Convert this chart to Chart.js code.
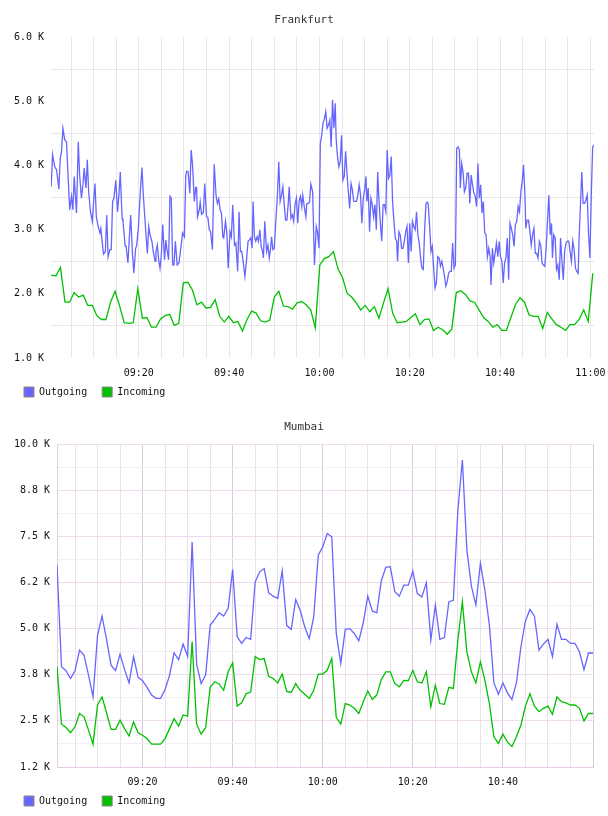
<!DOCTYPE html>
<html>
<head>
<meta charset="utf-8">
<script src="https://cdn.jsdelivr.net/npm/chart.js@4.4.1/dist/chart.umd.min.js"></script>
<style>
  body { margin: 0; background: #fff; }
  canvas { display: block; }
</style>
</head>
<body>
<canvas id="frankfurt" width="608" height="407"></canvas>
<canvas id="mumbai" width="608" height="409"></canvas>
<script>
// all times are minutes after 09:00

// ---- Frankfurt ----
const frOutTimes = [
  0.6,0.9,1.4,1.8,2.3,2.6,2.9,3.2,3.6,4.0,4.3,4.7,5.1,5.4,5.7,6.2,6.6,6.9,7.3,7.7,
  7.9,8.3,8.6,8.9,9.3,9.7,10.0,10.3,10.6,11.0,11.4,11.6,12.0,12.2,12.6,12.9,13.2,13.6,13.9,14.2,
  14.5,14.9,15.3,15.6,15.9,16.3,16.5,17.0,17.2,17.6,17.9,18.2,18.6,18.9,19.3,19.5,19.9,20.3,20.7,21.0,
  21.3,21.7,21.9,22.2,22.5,22.9,23.2,23.6,23.8,24.1,24.4,24.7,25.0,25.3,25.7,26.0,26.2,26.6,26.9,27.2,
  27.5,27.8,28.1,28.5,28.9,29.3,29.7,30.1,30.4,
  30.6,30.9,31.3,31.6,31.9,32.3,32.6,32.8,33.0,33.4,33.6,33.9,34.3,34.6,35.0,35.3,35.6,35.9,36.3,36.7,
  37.1,37.4,37.7,38.0,38.3,38.6,38.8,39.2,39.5,39.8,40.2,40.5,40.8,41.2,41.5,41.9,42.2,42.5,42.8,43.1,
  43.5,43.9,44.2,44.5,44.8,45.1,45.3,45.6,45.9,46.2,46.5,46.8,47.1,47.4,47.6,47.9,48.3,48.6,48.9,49.2,
  49.4,49.7,50.0,50.3,50.7,51.0,51.3,51.6,51.9,52.2,52.5,52.8,53.1,53.3,53.7,54.0,54.3,54.6,54.9,55.2,
  55.5,55.8,56.1,56.3,56.7,57.0,57.2,57.5,57.8,58.1,58.5,58.9,59.3,59.6,59.9,
  60.2,60.5,60.8,61.1,61.4,61.7,62.0,62.3,62.6,62.9,63.2,63.5,63.7,64.0,64.3,64.6,64.9,65.2,65.5,65.8,
  66.1,66.4,66.7,67.0,67.3,67.6,67.9,68.2,68.5,68.8,69.1,69.4,69.7,70.0,70.3,70.5,70.8,71.1,71.4,71.7,
  72.0,72.3,72.6,72.9,73.2,73.5,73.8,74.1,74.4,74.7,75.0,75.3,75.6,75.9,76.2,76.5,76.8,77.1,77.3,77.6,
  77.9,78.2,78.5,78.8,79.1,79.4,79.7,80.0,80.3,80.6,80.9,81.2,81.5,81.8,82.1,82.4,82.7,83.0,83.3,83.6,
  83.9,84.1,84.4,84.7,85.0,85.3,85.6,85.9,86.2,86.5,86.8,87.1,87.4,87.7,88.0,88.3,88.6,88.9,89.2,89.5,
  89.8,90.1,90.4,90.7,
  91.0,91.2,91.5,91.8,92.1,92.4,92.7,93.0,93.3,93.6,93.9,94.2,94.5,94.8,95.1,95.4,95.7,96.0,96.3,96.6,
  96.9,97.2,97.5,97.8,98.0,98.3,98.6,98.9,99.2,99.5,99.8,100.1,100.4,100.7,101.0,101.3,101.6,101.9,102.2,102.5,
  102.8,103.1,103.4,103.7,104.0,104.3,104.6,104.9,105.2,105.5,105.7,106.0,106.3,106.6,106.9,107.2,107.5,107.8,108.1,108.4,
  108.7,109.0,109.3,109.6,109.9,110.2,110.5,110.8,111.1,111.4,111.6,111.9,112.2,112.5,112.8,113.1,113.4,113.7,114.0,114.3,
  114.6,114.9,115.2,115.5,115.8,116.1,116.4,116.7,117.0,117.3,117.5,117.8,118.1,118.4,118.7,119.0,119.3,119.6,119.9,120.2,
  120.5,120.8
];
const frOutValues = [
  3670,4170,3980,3930,3630,4110,4220,4580,4400,4370,3900,3310,3520,3310,3830,3260,4370,3850,3490,3750,
  3960,3650,4090,3590,3280,3130,3440,3720,3200,3050,2950,3020,2740,2620,2660,3230,2580,2690,2690,3440,
  3490,3770,3280,3540,3900,3180,3130,2740,2740,2480,2870,3230,2630,2320,2710,2740,3020,3540,3970,3540,
  3230,2820,2630,3050,2920,2820,2660,2510,2660,2760,2530,2400,2610,3080,2530,2840,2710,2530,3520,3490,
  2450,2450,2820,2450,2480,2710,2950,2890,3850,
  3910,3910,3570,4240,4010,3440,3660,3660,3200,3310,3430,3240,3270,3720,3200,3190,3000,2970,2690,4020,
  3540,3410,3480,3310,3260,2890,2870,3130,2950,2400,2970,2890,3390,2760,2790,2350,3280,2660,2660,2510,
  2270,2560,2820,2840,2870,2710,3440,2890,2820,2890,2820,3000,2740,2660,2560,3130,2660,2760,2560,2710,
  2890,2690,2710,3080,3540,4060,3440,3540,3670,3390,3150,3150,3410,3670,3180,3230,3130,3390,3490,3100,
  3440,3520,3360,3540,3330,3200,3400,3410,3430,3710,3590,2450,3050,2950,2710,
  4340,4470,4660,4730,4840,4580,4630,4710,4290,5020,4580,4970,4420,4140,3980,4060,4470,3770,3830,4220,
  3880,3590,3330,3720,3620,3440,3440,3440,3540,3700,3540,3100,3490,3620,3830,3440,3650,2970,3490,3390,
  3200,3390,3000,3900,3440,3100,2820,3390,3390,3280,4240,3800,3850,4140,3440,3130,2870,2820,2510,2970,
  2920,2710,2710,2820,2970,3050,2480,3100,2660,3130,3050,3000,3280,2920,2790,2560,2400,2380,3020,3410,
  3430,3390,3050,2660,2740,2400,2090,2170,2580,2560,2430,2510,2400,2270,2120,2190,2320,2350,2350,2790,
  2400,2450,4270,4290,
  4240,3650,4030,3900,3590,3650,3880,3880,3410,3850,3700,3570,3520,3360,4030,3490,3700,3260,3440,2950,
  2920,2580,2710,2580,2140,2710,2480,2630,2790,2580,2820,2580,2510,2170,2480,2560,2870,2220,3100,3020,
  2920,2740,3080,3130,3360,3280,3590,3750,4010,3540,3020,3150,3150,2970,2760,2920,3020,2630,2630,2560,
  2820,2760,2480,2450,2430,2710,3130,3540,2920,3100,2560,2920,2870,2380,2450,2220,2870,2510,2220,2660,
  2790,2820,2820,2660,2510,2820,2690,2400,2350,2320,2870,3390,3900,3410,3410,3460,3540,2920,2560,3540,
  4290,4320
];
// incoming is sampled about once a minute
const frInFirst = 0.64;
const frInStep = 1.0075;
const frInValues = [
  2290,2280,2410,1870,1870,2020,1950,1980,1820,1820,1660,1600,1600,1870,2040,1810,1550,1540,1550,2080,
  1620,1630,1480,1480,1610,1660,1680,1510,1540,2170,2180,
  2060,1830,1870,1780,1790,1910,1650,1560,1650,1550,1570,1420,1600,1730,1700,1580,1560,1590,1950,
  2040,1810,1800,1760,1860,1880,1830,1750,1470,2450,
  2550,2580,2660,2390,2250,2010,1950,1860,1750,1820,1720,1800,1620,1860,2080,1700,1550,1560,1570,1630,
  1690,1520,1600,1610,1430,1480,1440,1370,1450,2020,
  2050,1990,1890,1870,1750,1630,1570,1480,1520,1430,1430,1630,1830,1940,1870,1670,1650,1650,1460,1710,
  1610,1520,1480,1430,1520,1520,1600,1750,1570,2320
];
const frTickLabels = ['1.0 K', '2.0 K', '3.0 K', '4.0 K', '5.0 K', '6.0 K'];

// ---- Mumbai (one sample a minute) ----
const muFirst = 1.0;
const muStep = 1.0;
const muOutValues = [
  6720,3970,3860,3650,3860,4420,4280,3740,3150,4820,5340,4710,4010,3860,4310,3890,3530,4240,3680,3590,
  3410,3200,3110,3110,3350,3740,4340,4160,4580,4250,7350,4040,3510,3740,5090,5250,5430,5340,5550,6600,
  4780,4600,4760,4710,6270,6540,6630,5970,5880,5820,6570,5090,4980,5790,5500,5050,
  4730,5320,6990,7220,7580,7490,4870,4060,4980,5000,4870,4670,5160,5880,5480,5430,6300,6660,6680,6000,
  5880,6180,6180,6560,5950,5860,6240,4690,5640,4710,4760,5730,5770,8210,9570,7130,6150,5640,6770,6040,
  5090,3530,3220,3530,3260,3080,3530,4510,5210,5520,5340,4420,4580,4710,4240,5120,4710,4710,4600,4600,
  4370,3890,4340,4340
];
const muInValues = [
  3970,2410,2320,2180,2340,2700,2610,2250,1870,2930,3150,2720,2270,2270,2520,2290,2090,2470,2180,2110,
  2020,1870,1870,1870,2020,2290,2560,2360,2660,2630,4650,2410,2140,2320,3410,3560,3500,3330,3830,4070,
  2900,2990,3240,3280,4240,4160,4190,3710,3650,3530,3770,3300,3270,3510,3330,3220,
  3110,3330,3770,3770,3870,4190,2590,2410,2970,2930,2840,2700,3020,3310,3080,3200,3620,3830,3830,3510,
  3420,3600,3590,3870,3560,3530,3830,2880,3470,2970,2950,3410,3380,4690,5730,4370,3830,3530,4100,3600,
  2970,2070,1890,2140,1930,1800,2070,2390,2900,3240,2900,2750,2840,2900,2680,3150,3020,2990,2930,2930,
  2840,2500,2700,2700
];
const muTickLabels = ['1.2 K', '2.5 K', '3.8 K', '5.0 K', '6.2 K', '7.5 K', '8.8 K', '10.0 K'];

const seriesNames = ['Outgoing', 'Incoming'];
const BLUE = '#6666ff';
const GREEN = '#00c000';
const FONT = "'DejaVu Sans Mono', monospace";

Chart.defaults.font.family = FONT;
Chart.defaults.font.size = 10;
Chart.defaults.color = '#111';

const hhmm = (m) => {
  const h = 9 + Math.floor(m / 60);
  const mm = Math.round(m % 60);
  return String(h).padStart(2, '0') + ':' + String(mm).padStart(2, '0');
};

const pairs = (times, values) => values.map((v, i) => ({ x: times[i], y: v }));
const regular = (values, first, step) => values.map((v, i) => ({ x: first + i * step, y: v }));

// the x axis is kept short so the legend sits close under it;
// give its labels room again once the layout is done, so they are not clipped.
// the title is centred on the whole page, not on the padded box
const labelRoom = {
  id: 'labelRoom',
  afterLayout(chart) {
    const s = chart.scales.x;
    s.bottom = s.top + 26;
    const t = chart.titleBlock;
    t.left = chart.width - t.right;
  }
};

function lineChart(id, cfg) {
  return new Chart(document.getElementById(id), {
    type: 'line',
    data: {
      datasets: [
        { label: seriesNames[0], data: cfg.outData, borderColor: BLUE, backgroundColor: BLUE },
        { label: seriesNames[1], data: cfg.inData, borderColor: GREEN, backgroundColor: GREEN }
      ]
    },
    plugins: [labelRoom],
    options: {
      responsive: false,
      animation: false,
      events: [],
      elements: { point: { radius: 0 }, line: { borderWidth: 1.3, tension: 0 } },
      layout: { padding: { left: 9, right: cfg.padRight, top: 0, bottom: 0 } },
      plugins: {
        title: {
          display: true,
          text: cfg.title,
          color: '#333',
          font: { family: FONT, size: 11, weight: 'normal' },
          padding: { top: 14, bottom: 10 }
        },
        legend: {
          position: 'bottom',
          align: 'start',
          labels: {
            boxWidth: 10,
            boxHeight: 10,
            padding: 15,
            color: '#111',
            font: { family: FONT, size: 10 },
            generateLabels: (chart) =>
              Chart.defaults.plugins.legend.labels.generateLabels(chart)
                .map(l => Object.assign(l, { strokeStyle: '#8a8a8a', lineWidth: 1 }))
          }
        },
        tooltip: { enabled: false }
      },
      scales: {
        x: {
          type: 'linear',
          min: cfg.xMin,
          max: cfg.xMax,
          afterFit: (s) => { s.height = 14; s.paddingLeft = 0; s.paddingRight = 0; },
          border: cfg.xBorder,
          grid: { drawTicks: false, color: cfg.xGrid },
          ticks: {
            stepSize: 5,
            includeBounds: false,
            autoSkip: false,
            maxRotation: 0,
            padding: 9,
            callback: cfg.xLabel
          }
        },
        y: {
          min: cfg.yMin,
          max: cfg.yMax,
          afterFit: (s) => { s.width = cfg.yWidth; s.paddingTop = 0; s.paddingBottom = 0; },
          border: cfg.yBorder,
          grid: { drawTicks: false, color: cfg.yGrid },
          ticks: { stepSize: cfg.yStep, padding: 7, callback: cfg.yLabel }
        }
      }
    }
  });
}

lineChart('frankfurt', {
  title: 'Frankfurt',
  outData: pairs(frOutTimes, frOutValues),
  inData: regular(frInValues, frInFirst, frInStep),
  padRight: 14,
  xMin: 0.56, xMax: 120.8,
  xBorder: { display: false },
  xGrid: '#e6e6e6',
  xLabel: (v) => (v % 20 === 0 ? hhmm(v) : ''),
  yMin: 1000, yMax: 6000, yStep: 500, yWidth: 42,
  yBorder: { display: false },
  yGrid: (ctx) => (ctx.tick && ctx.tick.value % 1000 === 0 ? 'rgba(0,0,0,0)' : '#e6e6e6'),
  yLabel: (v) => (v % 1000 === 0 ? frTickLabels[v / 1000 - 1] : '')
});

lineChart('mumbai', {
  title: 'Mumbai',
  outData: regular(muOutValues, muFirst, muStep),
  inData: regular(muInValues, muFirst, muStep),
  padRight: 15,
  xMin: 1.0, xMax: 120,
  xBorder: { display: true, color: '#e4cce4' },
  xGrid: (ctx) => (ctx.tick && ctx.tick.value % 20 === 0 ? '#dec6de' : '#e9e3e9'),
  xLabel: (v) => (v % 20 === 0 && v < 120 ? hhmm(v) : ''),
  yMin: 1250, yMax: 10000, yStep: 625, yWidth: 48,
  yBorder: { display: true, color: '#e4cce4' },
  yGrid: (ctx) => (ctx.tick && ctx.tick.value % 1250 === 0 ? '#eddbed' : '#f1eff1'),
  yLabel: (v) => (v % 1250 === 0 ? muTickLabels[v / 1250 - 1] : '')
});
</script>
</body>
</html>
